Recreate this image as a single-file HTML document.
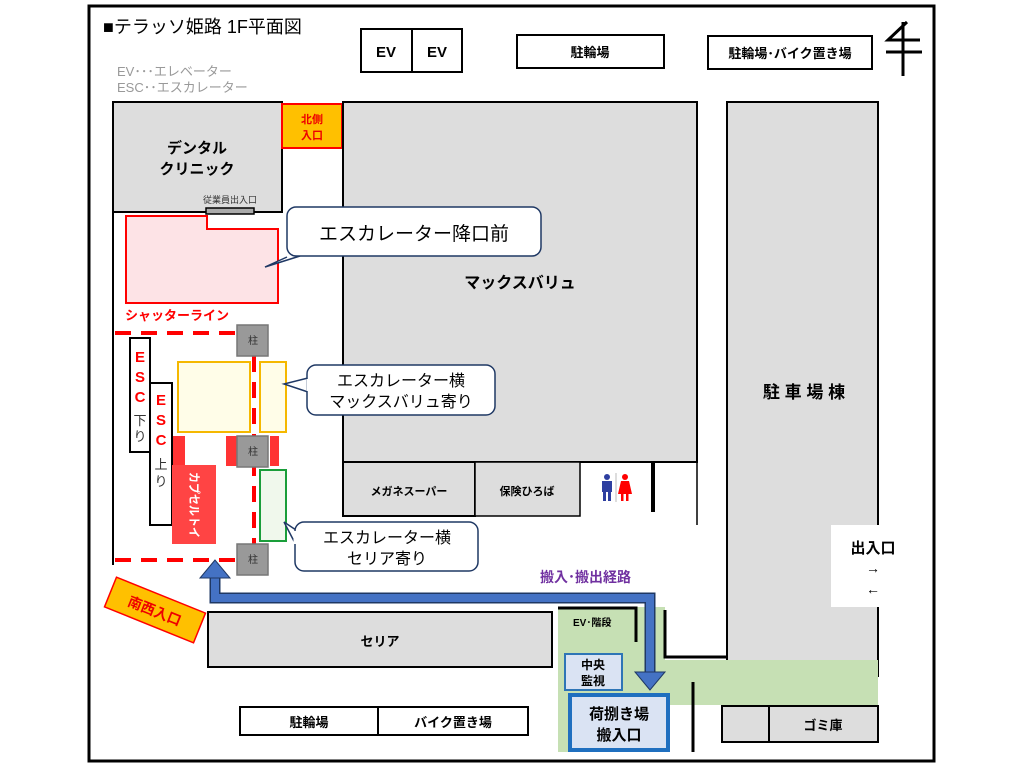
<!DOCTYPE html>
<html><head><meta charset="utf-8"><style>
html,body{margin:0;padding:0;background:#fff;}
svg{display:block;font-family:"Liberation Sans","Noto Sans CJK JP",sans-serif;}
.b{font-weight:bold;}
</style></head><body>
<svg width="1024" height="768" viewBox="0 0 1024 768">
<rect x="89" y="6" width="845" height="755" fill="#fff" stroke="#000" stroke-width="3"/>
<text x="103" y="33" font-size="18" fill="#000">■テラッソ姫路 1F平面図</text>
<text x="117" y="76" font-size="13" fill="#999">EV･･･エレベーター</text>
<text x="117" y="92" font-size="13" fill="#999">ESC･･エスカレーター</text>
<rect x="361" y="29" width="101" height="43" fill="#fff" stroke="#000" stroke-width="2"/>
<line x1="412" y1="29" x2="412" y2="72" stroke="#000" stroke-width="2"/>
<text x="386" y="57" font-size="15" class="b" text-anchor="middle">EV</text>
<text x="437" y="57" font-size="15" class="b" text-anchor="middle">EV</text>
<rect x="517" y="35" width="147" height="33" fill="#fff" stroke="#000" stroke-width="2"/>
<text x="590" y="57" font-size="13" class="b" text-anchor="middle">駐輪場</text>
<rect x="708" y="36" width="164" height="33" fill="#fff" stroke="#000" stroke-width="2"/>
<text x="790" y="58" font-size="13" class="b" text-anchor="middle">駐輪場･バイク置き場</text>
<g stroke="#000" stroke-width="3" fill="none"><line x1="903" y1="22" x2="903" y2="76"/><line x1="886" y1="52" x2="922" y2="52"/><path d="M907 22 L888 40 L920 40"/></g>
<!-- clinic -->
<rect x="113" y="102" width="169" height="110" fill="#ddd" stroke="#000" stroke-width="2"/>
<text x="197" y="153" font-size="15" class="b" text-anchor="middle">デンタル</text>
<text x="197" y="174" font-size="15" class="b" text-anchor="middle">クリニック</text>
<text x="230" y="203" font-size="9" fill="#333" text-anchor="middle">従業員出入口</text>
<rect x="206" y="208" width="48" height="6" fill="#aaa" stroke="#000" stroke-width="1.5"/>
<line x1="113" y1="212" x2="113" y2="565" stroke="#000" stroke-width="2"/>
<rect x="282" y="104" width="60" height="44" fill="#ffc000" stroke="#f00" stroke-width="2"/>
<text x="312" y="123" font-size="11" class="b" fill="#e00" text-anchor="middle">北側</text>
<text x="312" y="139" font-size="11" class="b" fill="#e00" text-anchor="middle">入口</text>
<rect x="343" y="102" width="354" height="360" fill="#ddd" stroke="#000" stroke-width="2"/>
<text x="520" y="288" font-size="16" class="b" text-anchor="middle">マックスバリュ</text>
<line x1="697" y1="462" x2="697" y2="525" stroke="#000" stroke-width="1.5"/>
<!-- pink -->
<polygon points="126,216 207,216 207,229 278,229 278,303 126,303" fill="#fde3e6" stroke="#f00" stroke-width="2"/>
<text x="125" y="320" font-size="13" class="b" fill="#f00">シャッターライン</text>
<path d="M287 257 L265 267 L300 256" fill="#fff" stroke="#1f3864" stroke-width="1.5"/>
<rect x="287" y="207" width="254" height="49" rx="9" fill="#fff" stroke="#1f3864" stroke-width="1.5"/>
<text x="414" y="240" font-size="19" text-anchor="middle">エスカレーター降口前</text>
<!-- dashed -->
<g stroke="#f00" stroke-width="4" stroke-dasharray="16,10" fill="none">
<line x1="115" y1="333" x2="237" y2="333"/>
<line x1="254" y1="356" x2="254" y2="545"/>
<line x1="115" y1="560" x2="237" y2="560"/>
</g>
<!-- ESC -->
<rect x="130" y="338" width="20" height="114" fill="#fff" stroke="#000" stroke-width="2"/>
<rect x="150" y="383" width="22" height="142" fill="#fff" stroke="#000" stroke-width="2"/>
<g font-size="15" class="b" fill="#f00" text-anchor="middle"><text x="140" y="362">E</text><text x="140" y="382">S</text><text x="140" y="402">C</text>
<text x="161" y="405">E</text><text x="161" y="425">S</text><text x="161" y="445">C</text></g>
<g font-size="13" fill="#333" text-anchor="middle"><text x="140" y="425">下</text><text x="140" y="441">り</text><text x="161" y="469">上</text><text x="161" y="486">り</text></g>
<rect x="173" y="436" width="12" height="30" fill="#f33"/>
<rect x="172" y="465" width="44" height="79" fill="#f44"/>
<text font-size="12" class="b" fill="#fff" transform="translate(190,472) rotate(90)" x="0" y="0" textLength="66" lengthAdjust="spacingAndGlyphs">カプセルトイ</text>
<!-- yellow -->
<rect x="178" y="362" width="72" height="70" fill="#fffde8" stroke="#f5b800" stroke-width="2"/>
<rect x="260" y="362" width="26" height="70" fill="#fffde8" stroke="#f5b800" stroke-width="2"/>
<rect x="226" y="436" width="11" height="30" fill="#f33"/>
<rect x="270" y="436" width="9" height="30" fill="#f33"/>
<rect x="260" y="470" width="26" height="71" fill="#f0f8ec" stroke="#1a9e3a" stroke-width="2"/>
<g fill="#999" stroke="#777" stroke-width="1.5"><rect x="237" y="325" width="31" height="31"/><rect x="237" y="436" width="31" height="31"/><rect x="237" y="544" width="31" height="31"/></g>
<g font-size="10" fill="#333" text-anchor="middle"><text x="253" y="344">柱</text><text x="253" y="455">柱</text><text x="253" y="563">柱</text></g>
<!-- callouts -->
<path d="M308 378 L284 384 L308 392" fill="#fff" stroke="#1f3864" stroke-width="1.5"/>
<rect x="307" y="365" width="188" height="50" rx="9" fill="#fff" stroke="#1f3864" stroke-width="1.5"/>
<line x1="308" y1="379" x2="308" y2="391" stroke="#fff" stroke-width="3"/>
<text x="401" y="386" font-size="16" text-anchor="middle">エスカレーター横</text>
<text x="401" y="407" font-size="16" text-anchor="middle">マックスバリュ寄り</text>
<path d="M296 530 L284 522 L296 545" fill="#fff" stroke="#1f3864" stroke-width="1.5"/>
<rect x="295" y="522" width="183" height="49" rx="9" fill="#fff" stroke="#1f3864" stroke-width="1.5"/>
<line x1="295" y1="531" x2="295" y2="544" stroke="#fff" stroke-width="3"/>
<text x="387" y="543" font-size="16" text-anchor="middle">エスカレーター横</text>
<text x="387" y="564" font-size="16" text-anchor="middle">セリア寄り</text>
<!-- shops -->
<rect x="343" y="462" width="132" height="54" fill="#ddd" stroke="#000" stroke-width="2"/>
<rect x="475" y="462" width="105" height="54" fill="#ddd" stroke="#000" stroke-width="1.5"/>
<text x="409" y="495" font-size="11" class="b" text-anchor="middle">メガネスーパー</text>
<text x="527" y="495" font-size="11" class="b" text-anchor="middle">保険ひろば</text>
<g fill="#2e3fa0"><circle cx="607" cy="477" r="3"/><rect x="602" y="481" width="10" height="11"/><rect x="603" y="490" width="3" height="11"/><rect x="608" y="490" width="3" height="11"/></g>
<line x1="616" y1="473" x2="616" y2="502" stroke="#bbb" stroke-width="1"/>
<g fill="#f00"><circle cx="625" cy="477" r="3"/><polygon points="621,481 629,481 632,494 618,494"/><rect x="621" y="494" width="2.5" height="7"/><rect x="626" y="494" width="2.5" height="7"/></g>
<rect x="651" y="462" width="4" height="50" fill="#000"/>
<!-- parking -->
<rect x="727" y="102" width="151" height="574" fill="#ddd" stroke="#000" stroke-width="2"/>
<text x="804" y="398" font-size="17" class="b" text-anchor="middle">駐 車 場 棟</text>
<rect x="831" y="525" width="86" height="82" fill="#fff"/>
<text x="873" y="553" font-size="15" class="b" text-anchor="middle">出入口</text>
<text x="873" y="573" font-size="14" class="b" text-anchor="middle">→</text>
<text x="873" y="594" font-size="14" class="b" text-anchor="middle">←</text>
<!-- green -->
<rect x="558" y="607" width="107" height="145" fill="#c6e0b4"/>
<rect x="665" y="660" width="213" height="45" fill="#c6e0b4"/>
<g stroke="#000" stroke-width="3" fill="none">
<polyline points="558,608 636,608 636,642"/>
<polyline points="665,610 665,657 727,657"/>
<line x1="693" y1="682" x2="693" y2="752"/>
</g>
<text x="573" y="626" font-size="10" class="b">EV･階段</text>
<rect x="565" y="654" width="57" height="36" fill="#dae3f3" stroke="#2e75b6" stroke-width="2"/>
<text x="593" y="669" font-size="12" class="b" text-anchor="middle">中央</text>
<text x="593" y="685" font-size="12" class="b" text-anchor="middle">監視</text>
<rect x="570" y="695" width="98" height="55" fill="#dae3f3" stroke="#1f6fbf" stroke-width="4"/>
<text x="619" y="719" font-size="15" class="b" text-anchor="middle">荷捌き場</text>
<text x="619" y="740" font-size="15" class="b" text-anchor="middle">搬入口</text>
<!-- route -->
<polyline points="215,578 215,598 650,598 650,675" fill="none" stroke="#1f3864" stroke-width="11"/>
<polyline points="215,578 215,598 650,598 650,675" fill="none" stroke="#4472c4" stroke-width="8"/>
<polygon points="215,560 200,578 230,578" fill="#4472c4" stroke="#1f3864" stroke-width="1"/>
<polygon points="650,690 635,672 665,672" fill="#4472c4" stroke="#1f3864" stroke-width="1"/>
<text x="540" y="582" font-size="14" class="b" fill="#7030a0">搬入･搬出経路</text>
<!-- SW entrance -->
<g transform="translate(155,610) rotate(22)"><rect x="-48" y="-16" width="96" height="32" fill="#ffc000" stroke="#f00" stroke-width="1.5"/><text x="0" y="6" font-size="14" class="b" fill="#e00" text-anchor="middle">南西入口</text></g>
<rect x="208" y="612" width="344" height="55" fill="#ddd" stroke="#000" stroke-width="2"/>
<text x="380" y="646" font-size="13" class="b" text-anchor="middle">セリア</text>
<rect x="240" y="707" width="138" height="28" fill="#fff" stroke="#000" stroke-width="2"/>
<rect x="378" y="707" width="150" height="28" fill="#fff" stroke="#000" stroke-width="2"/>
<text x="309" y="727" font-size="13" class="b" text-anchor="middle">駐輪場</text>
<text x="453" y="727" font-size="13" class="b" text-anchor="middle">バイク置き場</text>
<rect x="722" y="706" width="156" height="36" fill="#ddd" stroke="#000" stroke-width="2"/>
<line x1="769" y1="706" x2="769" y2="742" stroke="#000" stroke-width="2"/>
<text x="823" y="730" font-size="13" class="b" text-anchor="middle">ゴミ庫</text>
</svg>
</body></html>
